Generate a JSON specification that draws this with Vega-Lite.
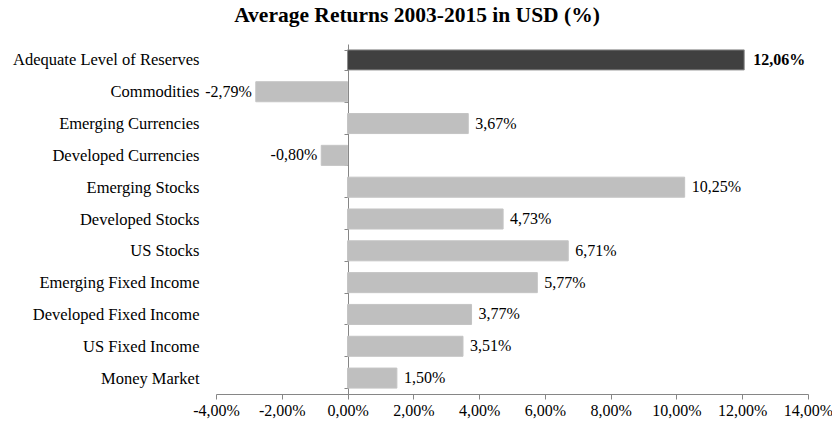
{
  "$schema": "https://vega.github.io/schema/vega-lite/v6.json",
  "autosize": {"type": "none"},
  "width": 592,
  "height": 350,
  "padding": {"left": 216, "top": 44, "right": 24, "bottom": 28},
  "background": "white",
  "title": {
    "text": "Average Returns 2003-2015 in USD (%)",
    "font": "Liberation Serif",
    "fontSize": 21.5,
    "fontWeight": "bold",
    "color": "#000000",
    "anchor": "middle",
    "frame": "group",
    "dx": -95,
    "offset": 10
  },
  "config": {
    "view": {"stroke": null},
    "axis": {"grid": false}
  },
  "data": {
    "values": [
      {"category": "Adequate Level of Reserves", "value": 12.06, "label": "12,06%", "highlight": true},
      {"category": "Commodities", "value": -2.79, "label": "-2,79%", "highlight": false},
      {"category": "Emerging Currencies", "value": 3.67, "label": "3,67%", "highlight": false},
      {"category": "Developed Currencies", "value": -0.80, "label": "-0,80%", "highlight": false},
      {"category": "Emerging Stocks", "value": 10.25, "label": "10,25%", "highlight": false},
      {"category": "Developed Stocks", "value": 4.73, "label": "4,73%", "highlight": false},
      {"category": "US Stocks", "value": 6.71, "label": "6,71%", "highlight": false},
      {"category": "Emerging Fixed Income", "value": 5.77, "label": "5,77%", "highlight": false},
      {"category": "Developed Fixed Income", "value": 3.77, "label": "3,77%", "highlight": false},
      {"category": "US Fixed Income", "value": 3.51, "label": "3,51%", "highlight": false},
      {"category": "Money Market", "value": 1.50, "label": "1,50%", "highlight": false}
    ]
  },
  "encoding": {
    "y": {
      "field": "category",
      "type": "nominal",
      "sort": null,
      "scale": {"paddingInner": 0.37, "paddingOuter": 0.185},
      "axis": {
        "title": null,
        "orient": "left",
        "offset": -132,
        "domain": true,
        "domainColor": "#868686",
        "ticks": true,
        "tickColor": "#868686",
        "tickSize": 4,
        "tickBand": "extent",
        "labelPadding": 145,
        "labelFont": "Liberation Serif",
        "labelFontSize": 16.5,
        "labelColor": "#000000",
        "labelLimit": 0
      }
    },
    "x": {
      "field": "value",
      "type": "quantitative",
      "scale": {"domain": [-4, 14], "nice": false, "zero": false},
      "axis": {
        "title": null,
        "values": [-4, -2, 0, 2, 4, 6, 8, 10, 12, 14],
        "labelExpr": "(datum.value < 0 ? '-' : '') + replace(format(abs(datum.value), '.2f'), '.', ',') + '%'",
        "domainColor": "#868686",
        "tickColor": "#868686",
        "tickSize": 5,
        "labelFont": "Liberation Serif",
        "labelFontSize": 16,
        "labelColor": "#000000",
        "labelPadding": 3,
        "labelFlush": false,
        "labelOverlap": false
      }
    }
  },
  "layer": [
    {
      "mark": {"type": "bar"},
      "encoding": {
        "color": {
          "condition": {"test": "datum.highlight", "value": "#404040"},
          "value": "#bfbfbf"
        },
        "stroke": {
          "condition": {"test": "datum.highlight", "value": "#8c8c8c"},
          "value": "#c4c4c4"
        }
      }
    },
    {
      "transform": [{"filter": "datum.value >= 0 && !datum.highlight"}],
      "mark": {"type": "text", "align": "left", "baseline": "middle", "dx": 7, "font": "Liberation Serif", "fontSize": 16, "color": "#000000"},
      "encoding": {"text": {"field": "label"}}
    },
    {
      "transform": [{"filter": "datum.value < 0"}],
      "mark": {"type": "text", "align": "right", "baseline": "middle", "dx": -4, "font": "Liberation Serif", "fontSize": 16, "color": "#000000"},
      "encoding": {"text": {"field": "label"}}
    },
    {
      "transform": [{"filter": "datum.highlight"}],
      "mark": {"type": "text", "align": "left", "baseline": "middle", "dx": 9, "font": "Liberation Serif", "fontSize": 16, "fontWeight": "bold", "color": "#000000"},
      "encoding": {"text": {"field": "label"}}
    }
  ]
}
